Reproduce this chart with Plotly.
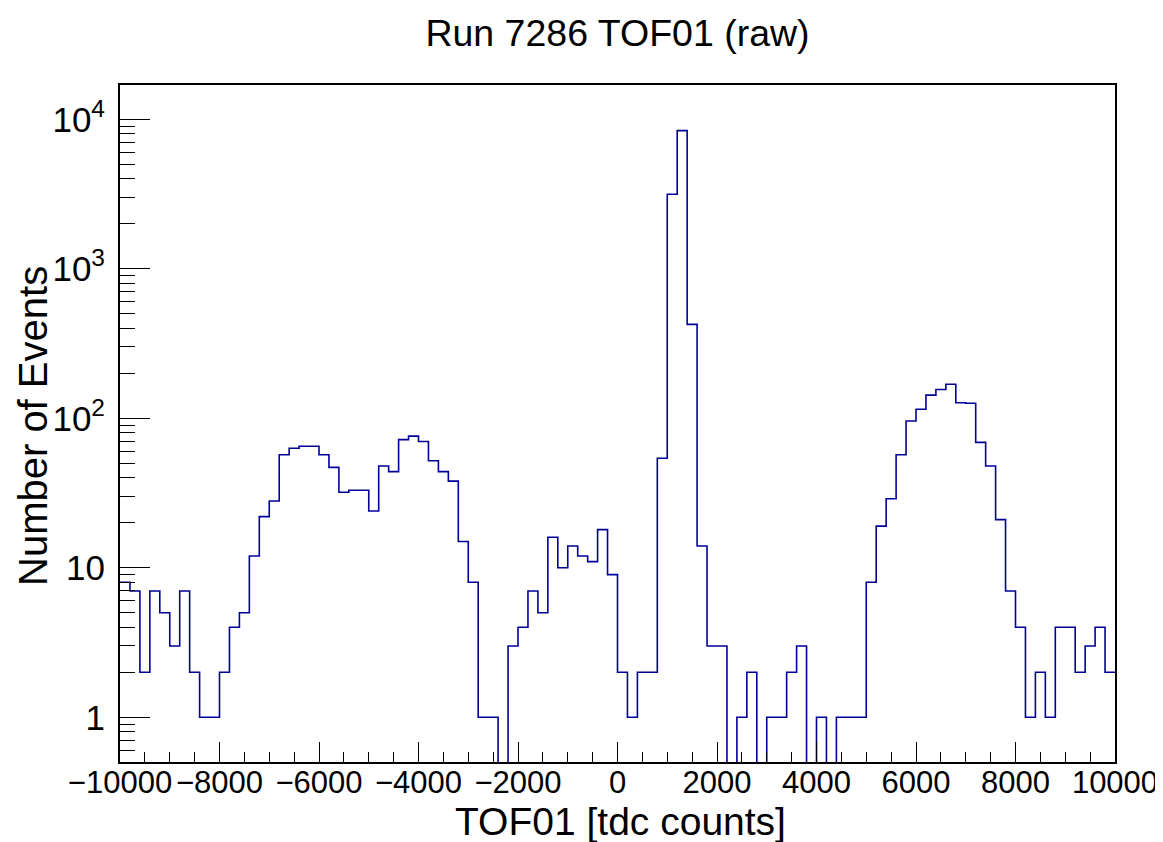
import plotly.graph_objects as go

# ---- data ----
bin_low_edge = -10000
bin_width = 200
counts = [
    8, 7, 2, 7, 5, 3, 7, 2, 1, 1,            # -10000 .. -8200
    2, 4, 5, 12, 22, 28, 57, 63, 65, 65,     # -8000 .. -6200
    57, 47, 32, 33, 33, 24, 48, 44, 72, 76,  # -6000 .. -4200
    70, 52, 44, 38, 15, 8, 1, 1, 0, 3,       # -4000 .. -2200
    4, 7, 5, 16, 10, 14, 12, 11, 18, 9,      # -2000 .. -200
    2, 1, 2, 2, 54, 3150, 8400, 425, 14, 3,  # 0 .. 1800
    3, 0, 1, 2, 0, 1, 1, 2, 3, 0,            # 2000 .. 3800
    1, 0, 1, 1, 1, 8, 19, 29, 57, 96,        # 4000 .. 5800
    115, 143, 156, 169, 127, 126, 69, 48, 21, 7,  # 6000 .. 7800
    4, 1, 2, 1, 4, 4, 2, 3, 4, 2,            # 8000 .. 9800
]
y_tickvals = [1, 10, 100, 1000, 10000]
y_ticktext = ["1", "10", "10<sup>2</sup>", "10<sup>3</sup>", "10<sup>4</sup>"]
x_tickvals = [-10000, -8000, -6000, -4000, -2000, 0, 2000, 4000, 6000, 8000, 10000]
x_ticktext = ["\u221210000", "\u22128000", "\u22126000", "\u22124000", "\u22122000",
              "0", "2000", "4000", "6000", "8000", "10000"]

title_text = "Run 7286 TOF01 (raw)"
x_title = "TOF01 [tdc counts]"
y_title = "Number of Events"

# ---- build step outline ----
edges = [bin_low_edge + bin_width * i for i in range(len(counts) + 1)]
ys = [c if c > 0 else 1e-3 for c in counts]
ys = ys + [ys[-1]]

# page body has an 8px default margin; layout is specified in screen pixels
OFF = 8
W, H = 1163, 842
L, R, T, B = 120 - OFF, 48 + OFF, 85 - OFF, 80 + OFF
PW, PH = W - L - R, H - T - B

fig = go.Figure()
fig.add_trace(go.Scatter(
    x=edges, y=ys, mode="lines", line_shape="hv",
    line=dict(color="rgb(0,0,153)", width=1.6),
    hoverinfo="skip", showlegend=False,
))

minor_y = [m * 10 ** d for d in range(-1, 5) for m in range(2, 10)]
minor_y = [v for v in minor_y if 0.5 <= v <= 17000]

font = "Liberation Sans, Arial, Helvetica, sans-serif"

fig.update_layout(
    width=W, height=H,
    margin=dict(l=L, r=R, t=T, b=B, autoexpand=False),
    paper_bgcolor="white", plot_bgcolor="white",
    font=dict(family=font, color="black"),
    title=dict(text=title_text, x=0.5, xref="paper", xanchor="center",
               y=1 - (33 - OFF) / H, yref="container", yanchor="middle",
               automargin=False,
               font=dict(size=37.5, family=font, color="black")),
    xaxis=dict(
        range=[-10000, 10000], showgrid=False, zeroline=False, automargin=False,
        showline=True, linecolor="black", linewidth=2, mirror=True,
        ticks="inside", ticklen=20, tickwidth=1, tickcolor="black",
        tickmode="array", tickvals=x_tickvals, ticktext=x_ticktext,
        ticklabelstandoff=-8,
        tickfont=dict(size=31, family=font, color="black"),
        minor=dict(ticks="inside", ticklen=10, tickwidth=1, tickcolor="black",
                   dtick=500, tick0=0, showgrid=False),
    ),
    yaxis=dict(
        type="log", range=[-0.299, 4.2296], showgrid=False, zeroline=False,
        automargin=False,
        showline=True, linecolor="black", linewidth=2, mirror=True,
        ticks="inside", ticklen=30, tickwidth=1, tickcolor="black",
        tickmode="array", tickvals=y_tickvals, ticktext=y_ticktext,
        ticklabelstandoff=6,
        tickfont=dict(size=35, family=font, color="black"),
        minor=dict(ticks="inside", ticklen=15, tickwidth=1, tickcolor="black",
                   tickmode="array", tickvals=minor_y, showgrid=False),
    ),
    annotations=[
        dict(text=x_title, xref="paper", yref="paper",
             x=(620 - OFF - L) / PW, y=(T + PH - (821 - OFF)) / PH,
             xanchor="center", yanchor="middle", showarrow=False,
             font=dict(size=39, family=font, color="black")),
        dict(text=y_title, xref="paper", yref="paper",
             x=(33 - OFF - L) / PW, y=(T + PH - (426 - OFF)) / PH, textangle=-90,
             xanchor="center", yanchor="middle", showarrow=False,
             font=dict(size=40, family=font, color="black")),
    ],
)

fig.write_html("out.html")
